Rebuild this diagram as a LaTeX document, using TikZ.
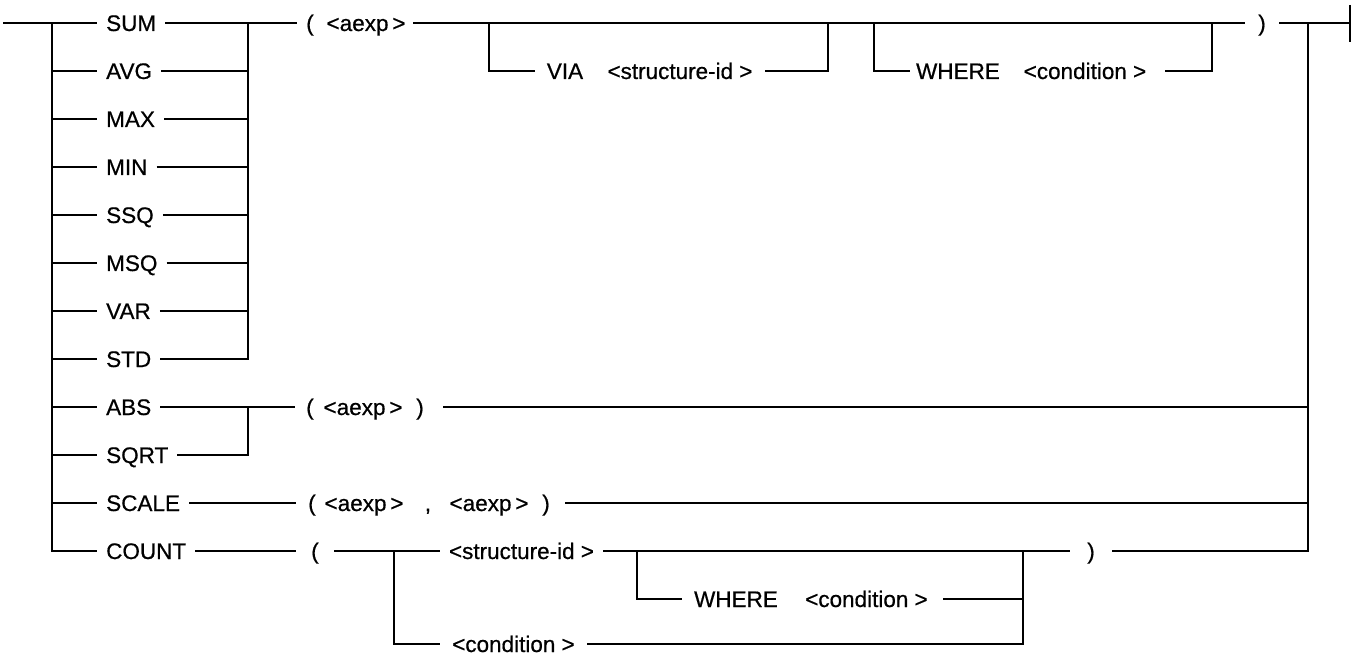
\documentclass[tikz,border=0pt]{standalone}
\usepackage{fontspec}
\newfontfamily\diagfont[FakeBold=0.6]{Liberation Sans}
\tikzset{
  ln/.style={line width=1.8pt},
  tx/.style={inner xsep=0pt, inner ysep=0pt, text height=16pt, text depth=0pt,
             font=\diagfont\fontsize{22.5}{27}\selectfont},
  kw/.style={tx, anchor=west, inner xsep=9pt},
}
\begin{document}
\begin{tikzpicture}[x=1pt,y=-1pt]
\useasboundingbox (0,0) rectangle (1353,655);
% junction columns
\coordinate (start) at (3,23);
\coordinate (lbar) at (52,23);
\coordinate (gbar) at (248,23);
\coordinate (rbar) at (1308,23);
\coordinate (vl) at (489,23);
\coordinate (vr) at (828,23);
\coordinate (wl) at (874,23);
\coordinate (wr) at (1212,23);
\coordinate (fin) at (1350,23);
\coordinate (tickA) at (1350,5);
\coordinate (tickB) at (1350,42);
\coordinate (cl) at (394,551);
\coordinate (cw) at (637,551);
\coordinate (cr) at (1023,551);

% left keyword labels
\node[kw] (sum) at (97,23) {SUM};
\node[kw] (avg) at (97,71) {AVG};
\node[kw] (max) at (97,119) {MAX};
\node[kw] (min) at (97,167) {MIN};
\node[kw] (ssq) at (97,215) {SSQ};
\node[kw] (msq) at (97,263) {MSQ};
\node[kw] (var) at (97,311) {VAR};
\node[kw] (std) at (97,359) {STD};
\node[kw] (abs) at (97,407) {ABS};
\node[kw] (sqrt) at (97,455) {SQRT};
\node[kw] (scale) at (97,503) {SCALE};
\node[kw] (count) at (97,551) {COUNT};

% top row
\node[tx, minimum width=26pt] (p0) at (310,23) {(};
\node[tx, minimum width=94pt] (a0) at (366,23) {<aexp\,>};
\node[tx, minimum width=34pt] (rp0) at (1262,23) {)};
\node[tx, minimum width=60pt] (via) at (565,71) {VIA};
\node[tx, minimum width=170pt] (sid1) at (680,71) {<structure-id >};
\node[tx, minimum width=96pt] (wh1) at (958,71) {WHERE};
\node[tx, minimum width=160pt] (cond1) at (1085,71) {<condition >};

% ABS / SQRT row
\node[tx, minimum width=30pt] (p8) at (310,407) {(};
\node[tx] (a8) at (363,407) {<aexp\,>};
\node[tx, minimum width=46pt] (r8) at (420,407) {)};

% SCALE row
\node[tx, minimum width=32pt] (p10) at (312,503) {(};
\node[tx] (a10) at (364,503) {<aexp\,>};
\node[tx] (cm10) at (428,503) {,};
\node[tx] (b10) at (489,503) {<aexp\,>};
\node[tx, minimum width=38pt] (r10) at (546,503) {)};

% COUNT rows
\node[tx, minimum width=38pt] (p11) at (315,551) {(};
\node[tx, minimum width=163pt] (sid11) at (521.5,551) {<structure-id >};
\node[tx, minimum width=42pt] (rp11) at (1091,551) {)};
\node[tx, minimum width=108pt] (wh12) at (736,599) {WHERE};
\node[tx, minimum width=153pt] (cond12) at (866.5,599) {<condition >};
\node[tx, minimum width=147pt] (cond13) at (513.5,644) {<condition >};

% left bar
\draw[ln] (start) -- (sum.west);
\draw[ln] (lbar) -- (lbar |- count.west) -- (count.west);
\foreach \n in {avg,max,min,ssq,msq,var,std,abs,sqrt,scale}
  \draw[ln] (lbar |- \n.west) -- (\n.west);

% aggregate group
\draw[ln] (sum.east) -- (p0.west);
\draw[ln] (gbar) -- (gbar |- std.east) -- (std.east);
\foreach \n in {avg,max,min,ssq,msq,var}
  \draw[ln] (\n.east) -- (gbar |- \n.east);
\draw[ln] (a0.east) -- (rp0.west);
\draw[ln] (rp0.east) -- (fin);
\draw[ln] (tickA) -- (tickB);
\draw[ln] (vl) -- (vl |- via.west) -- (via.west);
\draw[ln] (sid1.east) -- (vr |- sid1.east) -- (vr);
\draw[ln] (wl) -- (wl |- wh1.west) -- (wh1.west);
\draw[ln] (cond1.east) -- (wr |- cond1.east) -- (wr);

% right bar
\draw[ln] (rbar) -- (rbar |- rp11.east) -- (rp11.east);
\draw[ln] (r8.east) -- (rbar |- r8.east);
\draw[ln] (r10.east) -- (rbar |- r10.east);

% ABS / SQRT
\draw[ln] (abs.east) -- (p8.west);
\draw[ln] (gbar |- abs.east) -- (gbar |- sqrt.east) -- (sqrt.east);

% SCALE
\draw[ln] (scale.east) -- (p10.west);

% COUNT
\draw[ln] (count.east) -- (p11.west);
\draw[ln] (p11.east) -- (sid11.west);
\draw[ln] (sid11.east) -- (rp11.west);
\draw[ln] (cl) -- (cl |- cond13.west) -- (cond13.west);
\draw[ln] (cond13.east) -- (cr |- cond13.east) -- (cr);
\draw[ln] (cw) -- (cw |- wh12.west) -- (wh12.west);
\draw[ln] (cond12.east) -- (cr |- cond12.east);
\end{tikzpicture}
\end{document}
